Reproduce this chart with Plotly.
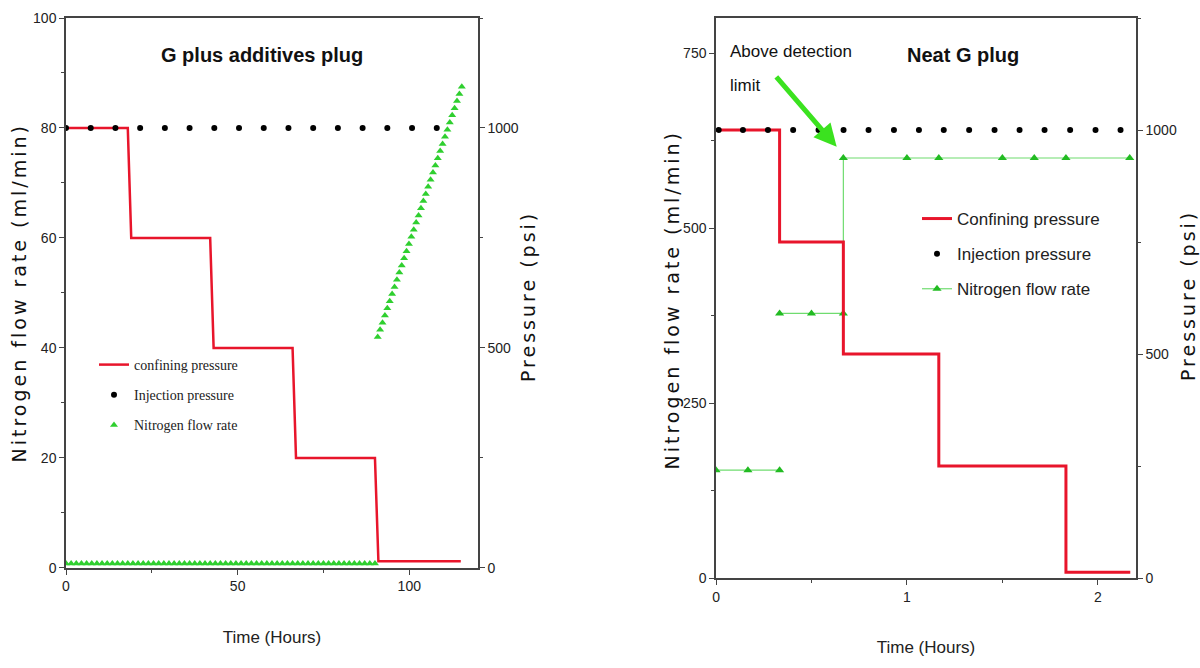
import plotly.graph_objects as go

# ---------------- Left panel: G plus additives plug ----------------
confA_t = [0, 18, 19, 42, 43, 66, 67, 90, 91, 115]
confA_psi = [1000, 1000, 750, 750, 500, 500, 250, 250, 15, 15]

injA_t = [0, 7.2, 14.4, 21.6, 28.8, 36, 43.2, 50.4, 57.6, 64.8, 72, 79.2, 86.4, 93.6, 100.8, 108]
injA_psi = [1000, 1000, 1000, 1000, 1000, 1000, 1000, 1000, 1000, 1000, 1000, 1000, 1000, 1000, 1000, 1000]

n2A_base_t = [0, 1.5, 3, 4.5, 6, 7.5, 9, 10.5, 12, 13.5,
              15, 16.5, 18, 19.5, 21, 22.5, 24, 25.5, 27, 28.5,
              30, 31.5, 33, 34.5, 36, 37.5, 39, 40.5, 42, 43.5,
              45, 46.5, 48, 49.5, 51, 52.5, 54, 55.5, 57, 58.5,
              60, 61.5, 63, 64.5, 66, 67.5, 69, 70.5, 72, 73.5,
              75, 76.5, 78, 79.5, 81, 82.5, 84, 85.5, 87, 88.5,
              90]
n2A_base_rate = [0.8, 0.8, 0.8, 0.8, 0.8, 0.8, 0.8, 0.8, 0.8, 0.8,
                 0.8, 0.8, 0.8, 0.8, 0.8, 0.8, 0.8, 0.8, 0.8, 0.8,
                 0.8, 0.8, 0.8, 0.8, 0.8, 0.8, 0.8, 0.8, 0.8, 0.8,
                 0.8, 0.8, 0.8, 0.8, 0.8, 0.8, 0.8, 0.8, 0.8, 0.8,
                 0.8, 0.8, 0.8, 0.8, 0.8, 0.8, 0.8, 0.8, 0.8, 0.8,
                 0.8, 0.8, 0.8, 0.8, 0.8, 0.8, 0.8, 0.8, 0.8, 0.8,
                 0.8]
n2A_ramp_t = [90.8, 91.5, 92.2, 92.9, 93.6, 94.3, 95.0, 95.7, 96.4, 97.1,
              97.8, 98.5, 99.2, 99.9, 100.6, 101.3, 102.0, 102.7, 103.4, 104.1,
              104.8, 105.5, 106.2, 106.9, 107.6, 108.3, 109.0, 109.7, 110.4, 111.1,
              111.8, 112.5, 113.2, 113.9, 114.6, 115.3]
n2A_ramp_rate = [42.0, 43.3, 44.6, 45.9, 47.2, 48.5, 49.8, 51.1, 52.4, 53.7,
                 55.0, 56.3, 57.6, 58.9, 60.2, 61.5, 62.8, 64.1, 65.4, 66.7,
                 68.0, 69.3, 70.6, 71.9, 73.2, 74.5, 75.8, 77.1, 78.4, 79.7,
                 81.0, 82.3, 83.6, 84.9, 86.2, 87.5]

# ---------------- Right panel: Neat G plug ----------------
confB_t = [0, 0.333, 0.333, 0.667, 0.667, 1.167, 1.167, 1.833, 1.833, 2.17]
confB_psi = [1000, 1000, 750, 750, 500, 500, 250, 250, 13, 13]

injB_t = [0.014, 0.141, 0.272, 0.404, 0.537, 0.668, 0.799, 0.932, 1.063, 1.193,
          1.326, 1.459, 1.590, 1.721, 1.855, 1.988, 2.119]
injB_psi = [1000, 1000, 1000, 1000, 1000, 1000, 1000, 1000, 1000, 1000,
            1000, 1000, 1000, 1000, 1000, 1000, 1000]

n2B_low_t = [0, 0.167, 0.333]
n2B_low_rate = [154, 154, 154]
n2B_high_t = [0.333, 0.5, 0.667, 0.667, 1.0, 1.167, 1.5, 1.667, 1.833, 2.167]
n2B_high_rate = [378, 378, 378, 600, 600, 600, 600, 600, 600, 600]

YTITLE_L = 'Nitrogen flow rate (ml/min)'
YTITLE_R = 'Pressure (psi)'

# ---------------- Styles ----------------
RED = '#e8152b'
GREEN = '#2fcf2f'
GREEN_LINE = '#6fdc6f'
SANS = '"Liberation Sans", Arial, sans-serif'
WIDE = '"DejaVu Sans", Verdana, sans-serif'
SERIF = '"Liberation Serif", "Times New Roman", serif'

fig = go.Figure()

# Left panel traces
fig.add_trace(go.Scatter(x=confA_t, y=confA_psi, xaxis='x', yaxis='y2', mode='lines',
                         line=dict(color=RED, width=2.5), name='confining pressure',
                         legend='legend', legendgroup='a1'))
fig.add_trace(go.Scatter(x=injA_t, y=injA_psi, xaxis='x', yaxis='y2', mode='markers',
                         marker=dict(color='black', size=6, symbol='circle'),
                         name='Injection pressure', legend='legend', legendgroup='a2'))
fig.add_trace(go.Scatter(x=n2A_base_t + [None] + n2A_ramp_t,
                         y=n2A_base_rate + [None] + n2A_ramp_rate,
                         xaxis='x', yaxis='y', mode='markers',
                         marker=dict(color=GREEN, size=7, symbol='triangle-up'),
                         name='Nitrogen flow rate', legend='legend', legendgroup='a3'))

# Right panel traces
fig.add_trace(go.Scatter(x=confB_t, y=confB_psi, xaxis='x2', yaxis='y4', mode='lines',
                         line=dict(color=RED, width=3), name='Confining pressure',
                         legend='legend2', legendgroup='b1'))
fig.add_trace(go.Scatter(x=injB_t, y=injB_psi, xaxis='x2', yaxis='y4', mode='markers',
                         marker=dict(color='black', size=6, symbol='circle'),
                         name='Injection pressure', legend='legend2', legendgroup='b2'))
fig.add_trace(go.Scatter(x=n2B_low_t + [None] + n2B_high_t,
                         y=n2B_low_rate + [None] + n2B_high_rate,
                         xaxis='x2', yaxis='y3', mode='lines+markers',
                         line=dict(color=GREEN_LINE, width=1.2),
                         marker=dict(color='#22bb22', size=8, symbol='triangle-up'),
                         name='Nitrogen flow rate', legend='legend2', legendgroup='b3'))

tickfont = dict(family=SANS, size=14, color='#222')
axis_common = dict(showgrid=False, zeroline=False, showline=True, linecolor='#444',
                   linewidth=1.5, ticks='outside', ticklen=5, tickcolor='#444',
                   tickfont=tickfont, automargin=False)
minor_common = dict(ticks='outside', ticklen=3, tickcolor='#444')

W, H = 1200, 668
PLOT_L, PLOT_R, PLOT_T, PLOT_B = 66, 1136, 18, 578   # pixels


def pp(xw, yw):
    """pixel -> paper fraction"""
    return (xw - PLOT_L) / (PLOT_R - PLOT_L), (PLOT_B - yw) / (PLOT_B - PLOT_T)


def text_ann(text, xw, yw, size, family, xanchor='center', angle=0, bold=False):
    x, y = pp(xw, yw)
    return dict(text=f'<b>{text}</b>' if bold else text, x=x, y=y, xref='paper', yref='paper',
                showarrow=False, xanchor=xanchor, yanchor='middle', textangle=angle,
                font=dict(family=family, size=size, color='#111'))


lx, ly = pp(94, 349)
rx, ry = pp(917, 201)

fig.update_layout(
    width=W, height=H,
    margin=dict(l=PLOT_L, r=W - PLOT_R, t=PLOT_T, b=H - PLOT_B),
    paper_bgcolor='white', plot_bgcolor='white',
    xaxis=dict(domain=[0, 0.385], range=[0, 120], anchor='y', dtick=50, mirror=True,
               minor=dict(dtick=25, **minor_common),
               title=dict(text='Time (Hours)', font=dict(family=SANS, size=17, color='#222'), standoff=38),
               **axis_common),
    yaxis=dict(domain=[0.018, 1], range=[0, 100], anchor='x', dtick=20,
               minor=dict(dtick=10, **minor_common), **axis_common),
    yaxis2=dict(overlaying='y', side='right', range=[0, 1250], anchor='x', dtick=500,
                minor=dict(dtick=250, **minor_common), **axis_common),
    xaxis2=dict(domain=[0.6075, 1], range=[0, 2.2], anchor='y3', dtick=1, mirror=True,
                minor=dict(dtick=0.5, **minor_common),
                title=dict(text='Time (Hours)', font=dict(family=SANS, size=17, color='#222'), standoff=38),
                **axis_common),
    yaxis3=dict(domain=[0, 1], range=[0, 800], anchor='x2', dtick=250,
                minor=dict(dtick=125, **minor_common), **axis_common),
    yaxis4=dict(overlaying='y3', side='right', range=[0, 1250], anchor='x2', dtick=500,
                minor=dict(dtick=250, **minor_common), **axis_common),
    legend=dict(x=lx, y=ly, xanchor='left', yanchor='top', bgcolor='rgba(0,0,0,0)',
                font=dict(family=SERIF, size=14, color='#222'), tracegroupgap=9,
                traceorder='grouped'),
    legend2=dict(x=rx, y=ry, xanchor='left', yanchor='top', bgcolor='rgba(0,0,0,0)',
                 font=dict(family=SANS, size=17, color='#222'), tracegroupgap=10,
                 traceorder='grouped'),
    annotations=[
        text_ann('G plus additives plug', 262, 55, 20, SANS, bold=True),
        text_ann('Neat G plug', 963, 55, 20, SANS, bold=True),
        text_ann('Above detection', 728, 51, 17, SANS, xanchor='left'),
        text_ann('limit', 728, 85, 17, SANS, xanchor='left'),
        text_ann(YTITLE_L, 19, 293, 19, WIDE, angle=-90),
        text_ann(YTITLE_R, 528, 297, 19, WIDE, angle=-90),
        text_ann(YTITLE_L, 672, 300, 19, WIDE, angle=-90),
        text_ann(YTITLE_R, 1188, 296, 19, WIDE, angle=-90),
        dict(text='', x=0.632, y=616, xref='x2', yref='y3', ax=0.309, ay=718,
             axref='x2', ayref='y3', showarrow=True, arrowhead=2, arrowsize=0.9,
             arrowwidth=5, arrowcolor='#3be21f'),
    ],
)

post_js = """
(function(){
  document.body.style.margin = '0px';
  document.body.style.overflow = 'hidden';
  var names = %s;
  document.querySelectorAll('text.annotation-text').forEach(function(t){
    if (names.indexOf(t.textContent) >= 0) { t.style.letterSpacing = '3px'; }
  });
})();
""" % ('["%s", "%s"]' % (YTITLE_L, YTITLE_R))

fig.write_html('out.html', post_script=post_js, config={'displayModeBar': False})
